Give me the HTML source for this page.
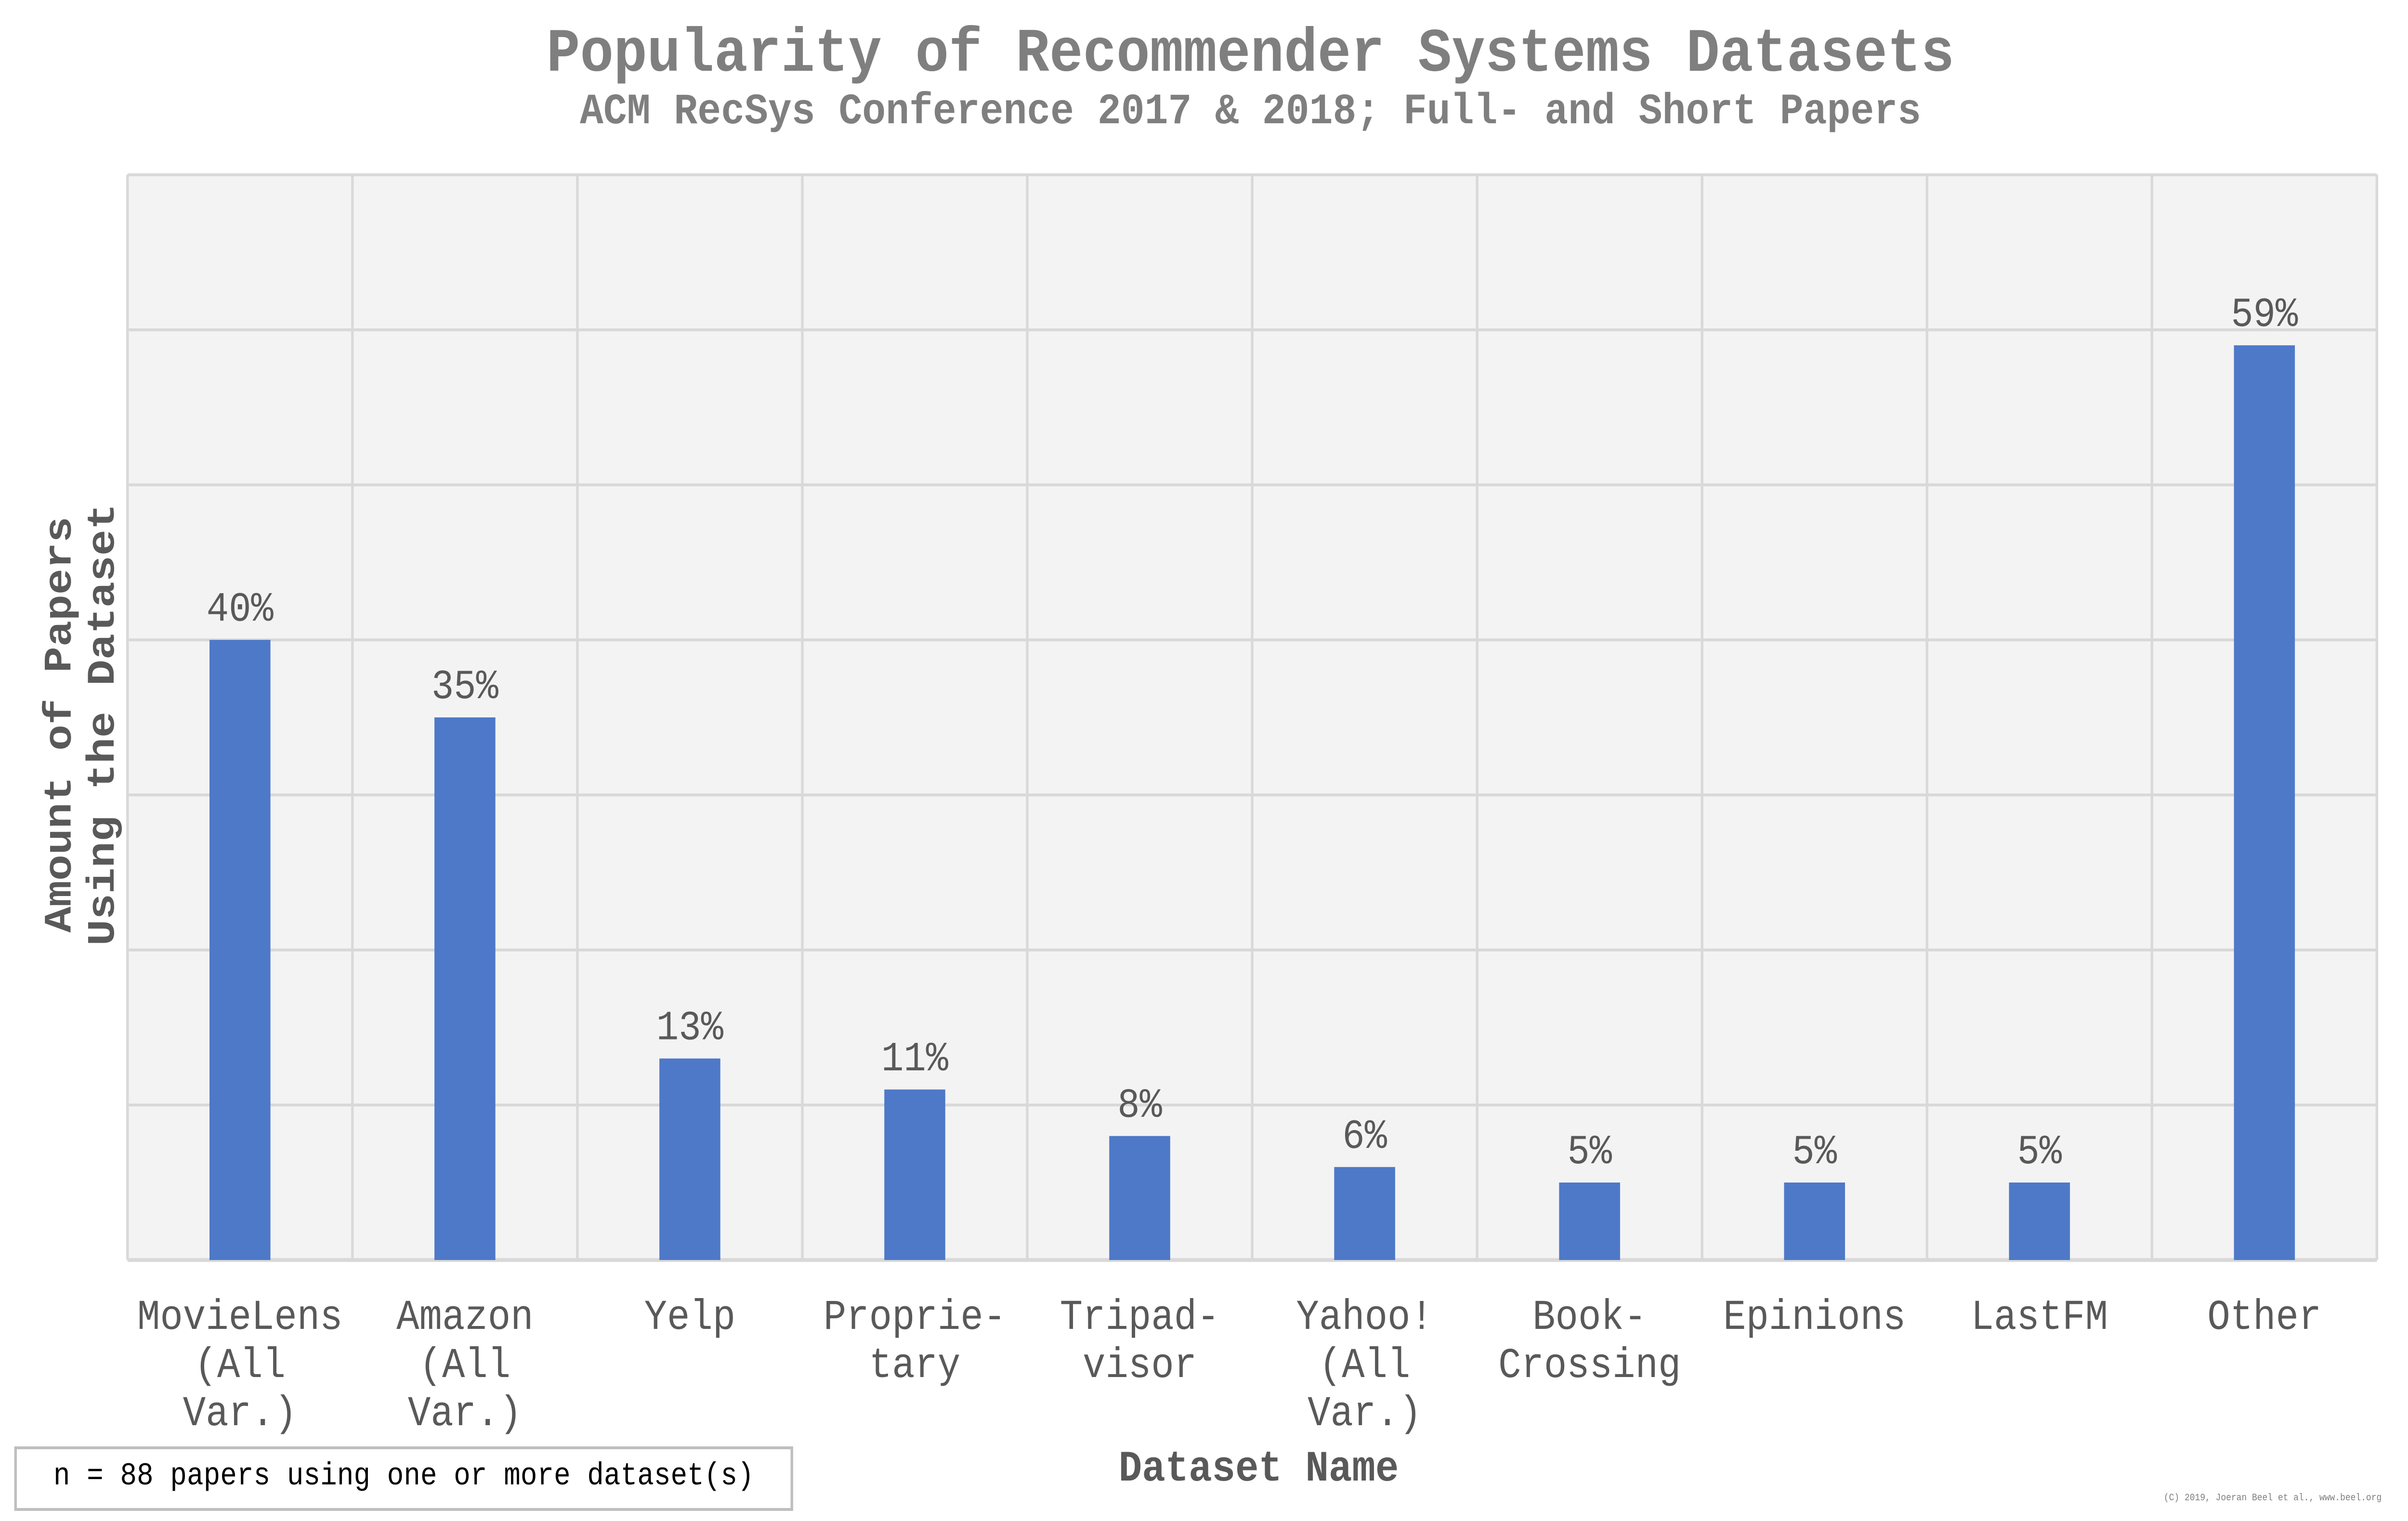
<!DOCTYPE html>
<html><head><meta charset="utf-8"><style>
html,body{margin:0;padding:0;background:#fff;overflow:hidden;width:100%;height:100%;}
svg{display:block;width:100vw;height:100vh;}
text{font-family:"Liberation Mono","Courier New",monospace;}
</style></head><body>
<svg id="chart" viewBox="0 0 5571 3159" preserveAspectRatio="none" xmlns="http://www.w3.org/2000/svg">
<rect width="5571" height="3159" fill="#ffffff"/>
<text x="2893" y="147" text-anchor="middle" font-size="128" font-weight="bold" fill="#7f7f7f" textLength="3257" lengthAdjust="spacingAndGlyphs">Popularity of Recommender Systems Datasets</text>
<text x="2893" y="256" text-anchor="middle" font-size="90" font-weight="bold" fill="#7f7f7f" textLength="3103" lengthAdjust="spacingAndGlyphs">ACM RecSys Conference 2017 &amp; 2018; Full- and Short Papers</text>
<rect x="295" y="363" width="5204" height="2254" fill="#f3f3f3"/>
<g id="grid"></g>
<g id="bars"></g>
<g id="labels"></g>
<g font-size="90" font-weight="bold" fill="#595959">
<text transform="translate(163,1505) rotate(-90)" text-anchor="middle">Amount of Papers</text>
<text transform="translate(263,1505) rotate(-90)" text-anchor="middle">Using the Dataset</text>
</g>
<text x="2912" y="3075" text-anchor="middle" font-size="90" font-weight="bold" fill="#595959">Dataset Name</text>
<rect x="36" y="3007" width="1796" height="128" fill="#fff" stroke="#bfbfbf" stroke-width="6"/>
<text x="934" y="3083" text-anchor="middle" font-size="66" fill="#000" textLength="1621" lengthAdjust="spacingAndGlyphs">n = 88 papers using one or more dataset(s)</text>
<text x="5510" y="3116" text-anchor="end" font-size="20" fill="#7f7f7f">(C) 2019, Joeran Beel et al., www.beel.org</text>
</svg>
<script>
const categories = [["MovieLens","(All","Var.)"],["Amazon","(All","Var.)"],["Yelp"],["Proprie-","tary"],["Tripad-","visor"],["Yahoo!","(All","Var.)"],["Book-","Crossing"],["Epinions"],["LastFM"],["Other"]];
const values = [40,35,13,11,8,6,5,5,5,59];
const valueLabels = ["40%","35%","13%","11%","8%","6%","5%","5%","5%","59%"];
const yTicks = [0,10,20,30,40,50,60,70];

const NS = "http://www.w3.org/2000/svg";
const X0 = 295, X1 = 5499, Y0 = 2617, Y1 = 363, YMAX = 70;
const band = (X1 - X0) / categories.length;
const xPos = i => X0 + band * (i + 0.5);
const yPos = v => Y0 - (v / YMAX) * (Y0 - Y1);
function mk(tag, attrs, parent) {
  const e = document.createElementNS(NS, tag);
  for (const k in attrs) e.setAttribute(k, attrs[k]);
  parent.appendChild(e);
  return e;
}
const grid = document.getElementById('grid');
yTicks.forEach(t => {
  const l = mk('line', {x1: X0, x2: X1, y1: yPos(t), y2: yPos(t), stroke: '#d9d9d9', 'stroke-width': t === 0 ? 8 : 6}, grid);
  
  
});
for (let i = 0; i <= categories.length; i++) {
  const x = X0 + band * i;
  const l = mk('line', {x1: x, x2: x, y1: Y1, y2: Y0, stroke: '#d9d9d9', 'stroke-width': 6}, grid);
  
  
}
const bars = document.getElementById('bars');
const labels = document.getElementById('labels');
const BW = 141;
values.forEach((v, i) => {
  const r = mk('rect', {x: xPos(i) - BW / 2, y: yPos(v), width: BW, height: Y0 - yPos(v), fill: '#4e79c8'}, bars);
  
  
  const t = mk('text', {x: xPos(i), y: yPos(v) - 40, 'text-anchor': 'middle', 'font-size': 86, fill: '#595959'}, labels);
  t.textContent = valueLabels[i];
  
  
  categories[i].forEach((line, j) => {
    const c = mk('text', {x: xPos(i), y: 2760 + j * 100, 'text-anchor': 'middle', 'font-size': 88, fill: '#595959'}, labels);
    c.textContent = line;
    
    
  });
});
</script>
</body></html>
